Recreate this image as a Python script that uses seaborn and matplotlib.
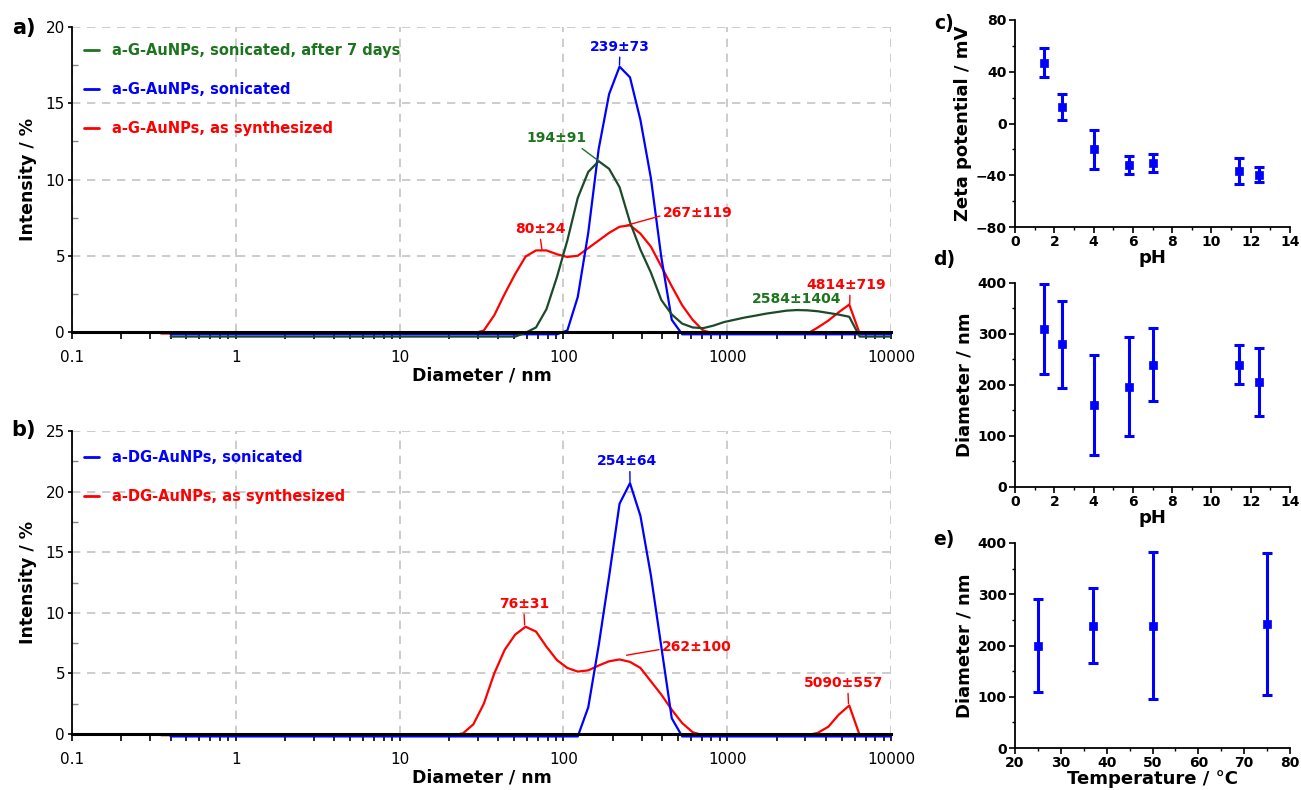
import matplotlib
matplotlib.use("Agg")
import matplotlib.pyplot as plt
import seaborn as sns
from matplotlib.lines import Line2D
from matplotlib.ticker import MultipleLocator, LogLocator, NullFormatter

sns.set_theme(style="ticks")
plt.rcParams['font.family'] = ['DejaVu Sans']
plt.rcParams['text.color'] = 'black'
plt.rcParams['axes.labelcolor'] = 'black'
plt.rcParams['xtick.labelcolor'] = 'black'
plt.rcParams['ytick.labelcolor'] = 'black'

BLUE = '#0000FF'
RED = '#FF0000'
GREEN = '#1A4A2A'
GREEN_TXT = '#1E741E'

# ---- panel a: DLS size distributions, a-G-AuNPs ----
red_a_d = [0.35, 28.21, 32.67, 37.84, 43.82, 50.75, 58.77, 68.06, 78.82, 91.28, 105.7,
           122.4, 141.8, 164.2, 190.1, 220.2, 255.0, 295.3, 342.0, 396.1, 458.7, 531.2,
           615.1, 712.4, 825.0, 3091, 3580, 4145, 4801, 5560, 6439, 10000]
red_a_i = [-0.1, -0.1, 0.1, 1.1, 2.5, 3.8, 4.95, 5.35, 5.35, 5.1, 4.92,
           5.0, 5.5, 6.0, 6.5, 6.9, 7.0, 6.45, 5.6, 4.3, 3.0, 1.75,
           0.8, 0.1, -0.1, -0.1, 0.3, 0.75, 1.3, 1.8, -0.1, -0.1]

blue_a_d = [0.4, 91.28, 105.7, 122.4, 141.8, 164.2, 190.1, 220.2, 255.0, 295.3, 342.0,
            396.1, 458.7, 531.2, 10000]
blue_a_i = [-0.15, -0.15, 0.1, 2.3, 6.5, 12.0, 15.6, 17.4, 16.7, 13.9, 10.1,
            4.9, 0.8, -0.15, -0.15]

green_a_d = [0.4, 50.75, 58.77, 68.06, 78.82, 91.28, 105.7, 122.4, 141.8, 164.2, 190.1,
             220.2, 255.0, 295.3, 342.0, 396.1, 458.7, 531.2, 615.1, 712.4, 825.0, 955.4,
             1106, 1281, 1484, 1718, 1990, 2305, 2669, 3091, 3580, 4145, 4801, 5560,
             6439, 10000]
green_a_i = [-0.3, -0.3, -0.05, 0.3, 1.5, 3.6, 6.0, 8.8, 10.5, 11.2, 10.7,
             9.5, 7.2, 5.4, 3.9, 2.1, 1.15, 0.55, 0.3, 0.25, 0.42, 0.65,
             0.8, 0.95, 1.07, 1.2, 1.3, 1.4, 1.44, 1.42, 1.36, 1.25, 1.14, 1.0,
             -0.3, -0.3]

# ---- panel b: DLS size distributions, a-DG-AuNPs ----
red_b_d = [0.35, 21.04, 24.36, 28.21, 32.67, 37.84, 43.82, 50.75, 58.77, 68.06, 78.82,
           91.28, 105.7, 122.4, 141.8, 164.2, 190.1, 220.2, 255.0, 295.3, 342.0, 396.1,
           458.7, 531.2, 615.1, 712.4, 3091, 3580, 4145, 4801, 5560, 6439, 10000]
red_b_i = [-0.1, -0.1, 0.05, 0.8, 2.5, 5.0, 6.95, 8.2, 8.85, 8.45, 7.2,
           6.1, 5.45, 5.15, 5.25, 5.65, 6.0, 6.15, 5.95, 5.45, 4.35, 3.25,
           2.0, 0.9, 0.15, -0.1, -0.1, 0.1, 0.6, 1.6, 2.35, -0.1, -0.1]

blue_b_d = [0.4, 122.4, 141.8, 164.2, 190.1, 220.2, 255.0, 295.3, 342.0, 396.1, 458.7,
            531.2, 10000]
blue_b_i = [-0.2, -0.2, 2.2, 7.3, 13.0, 19.0, 20.7, 18.0, 13.1, 7.2, 1.3,
            -0.2, -0.2]

# peak annotations: text, peak (x, y), text centre (x, y), colour, leader start on text
ann_a_text = ['239±73', '194±91', '80±24', '267±119', '2584±1404', '4814±719']
ann_a_xy = [(220, 17.5), (165, 11.2), (74, 5.4), (244, 7.0), (2780, 1.45), (5600, 1.85)]
ann_a_pos = [(221, 18.7), (91, 12.7), (72, 6.75), (664, 7.8), (2667, 2.16), (5310, 3.08)]
ann_a_col = [BLUE, GREEN_TXT, RED, RED, GREEN_TXT, RED]
ann_a_rel = [(0.5, 0), (0.85, 0), (0.5, 0), (0, 0.35), (0.5, 0), (0.55, 0)]

ann_b_text = ['254±64', '76±31', '262±100', '5090±557']
ann_b_xy = [(255, 20.8), (58, 9.0), (243, 6.5), (5500, 2.5)]
ann_b_pos = [(244, 22.5), (57.4, 10.73), (655, 7.18), (5160, 4.2)]
ann_b_col = [BLUE, RED, RED, RED]
ann_b_rel = [(0.55, 0), (0.5, 0), (0, 0.35), (0.55, 0)]

# ---- panels c, d, e ----
ph = [1.5, 2.4, 4.0, 5.8, 7.0, 11.4, 12.4]
zeta = [47, 13, -20, -32, -30.5, -36.5, -39.5]
zeta_err = [11, 10, 15, 7, 7, 10, 6]
diam_ph = [310, 280, 161, 197, 240, 240, 206]
diam_ph_err = [88, 85, 98, 97, 72, 39, 67]
temp = [25, 37, 50, 75]
diam_t = [200, 239, 239, 242]
diam_t_err = [91, 73, 143, 138]

W, H = 1301, 790
fig = plt.figure(figsize=(W / 100, H / 100), dpi=100)


def px_axes(left, top, right, bottom):
    return fig.add_axes([left / W, 1 - bottom / H, (right - left) / W, (bottom - top) / H])


def dls_panel(ax, curves, ymax, legend_items, ann, legend_y):
    for d, i, c in curves:
        sns.lineplot(x=d, y=i, ax=ax, color=c, lw=1.6, sort=False, estimator=None)
        ax.lines[-1].set_clip_on(False)
    ax.set_xscale('log')
    ax.set_xlim(0.1, 10000)
    ax.set_ylim(0, ymax)
    ax.set_xticks([0.1, 1, 10, 100, 1000, 10000])
    ax.set_xticklabels(['0.1', '1', '10', '100', '1000', '10000'])
    ax.xaxis.set_minor_locator(LogLocator(base=10, subs=range(2, 10), numticks=20))
    ax.xaxis.set_minor_formatter(NullFormatter())
    ax.yaxis.set_major_locator(MultipleLocator(5))
    ax.yaxis.set_minor_locator(MultipleLocator(2.5))
    ax.grid(True, which='major', ls=(0, (5, 4)), color='#C4C4C4', lw=1.2)
    for s in ['top', 'right']:
        ax.spines[s].set_visible(False)
    ax.spines['left'].set_color('black')
    ax.spines['left'].set_linewidth(1.3)
    ax.spines['bottom'].set_color('black')
    ax.spines['bottom'].set_linewidth(2.2)
    ax.tick_params(axis='x', which='both', direction='out', length=5, width=1.2,
                   color='black', labelsize=11, pad=8)
    ax.tick_params(axis='y', which='major', direction='out', length=3, width=1.2,
                   color='black', labelsize=11, pad=2)
    ax.tick_params(axis='y', which='minor', direction='in', length=4, width=1, color='#888888')
    ax.set_xlabel('Diameter / nm', fontsize=12.5, fontweight='bold', labelpad=1)
    ax.set_ylabel('Intensity / %', fontsize=12.5, fontweight='bold', labelpad=6)

    handles = [Line2D([], [], color=c, lw=2) for _, c in legend_items]
    leg = ax.legend(handles, [t for t, _ in legend_items], loc='upper left',
                    bbox_to_anchor=(0.015, legend_y), frameon=False,
                    prop={'size': 10.5, 'weight': 'bold'}, handlelength=1.0,
                    handletextpad=0.9, labelspacing=1.65, borderaxespad=0, borderpad=0)
    for txt, (_, c) in zip(leg.get_texts(), legend_items):
        txt.set_color(c)

    for t, xy, pos, c, rel in zip(*ann):
        ax.annotate(t, xy=xy, xytext=pos, ha='center', va='center', color=c,
                    fontsize=10, fontweight='bold',
                    arrowprops=dict(arrowstyle='-', color=c, lw=1, shrinkA=0, shrinkB=0,
                                    relpos=rel))


ax_a = px_axes(72, 27, 891, 332)
dls_panel(ax_a,
          [(red_a_d, red_a_i, RED), (blue_a_d, blue_a_i, BLUE), (green_a_d, green_a_i, GREEN)],
          20,
          [('a-G-AuNPs, sonicated, after 7 days', GREEN_TXT),
           ('a-G-AuNPs, sonicated', BLUE),
           ('a-G-AuNPs, as synthesized', RED)],
          (ann_a_text, ann_a_xy, ann_a_pos, ann_a_col, ann_a_rel), 0.948)

ax_b = px_axes(72, 431, 891, 734)
dls_panel(ax_b,
          [(red_b_d, red_b_i, RED), (blue_b_d, blue_b_i, BLUE)],
          25,
          [('a-DG-AuNPs, sonicated', BLUE),
           ('a-DG-AuNPs, as synthesized', RED)],
          (ann_b_text, ann_b_xy, ann_b_pos, ann_b_col, ann_b_rel), 0.937)


def small_panel(ax, x, y, err, xlim, xmaj, xmin, ylim, ymaj, ymin, xlabel, ylabel):
    ax.errorbar(x, y, yerr=err, fmt='none', ecolor=BLUE, elinewidth=2.2,
                capsize=3.3, capthick=2.2, zorder=2)
    sns.scatterplot(x=x, y=y, ax=ax, marker='s', s=38, color=BLUE, edgecolor=BLUE,
                    linewidth=0.5, zorder=3)
    ax.set_xlim(*xlim)
    ax.set_ylim(*ylim)
    ax.xaxis.set_major_locator(MultipleLocator(xmaj))
    ax.xaxis.set_minor_locator(MultipleLocator(xmin))
    ax.yaxis.set_major_locator(MultipleLocator(ymaj))
    ax.yaxis.set_minor_locator(MultipleLocator(ymin))
    for s in ['top', 'right']:
        ax.spines[s].set_visible(False)
    for s in ['left', 'bottom']:
        ax.spines[s].set_color('black')
        ax.spines[s].set_linewidth(1.3)
    ax.tick_params(which='major', direction='out', length=4, width=1.2, color='black',
                   labelsize=10, pad=2)
    ax.tick_params(which='minor', direction='out', length=2.5, width=1, color='black')
    for lab in ax.get_xticklabels() + ax.get_yticklabels():
        lab.set_fontweight('bold')
    ax.set_xlabel(xlabel, fontsize=13, fontweight='bold', labelpad=0)
    ax.set_ylabel(ylabel, fontsize=13, fontweight='bold', labelpad=3)


ax_c = px_axes(1015, 20, 1290, 227)
small_panel(ax_c, ph, zeta, zeta_err, (0, 14), 2, 1, (-80, 80), 40, 20,
            'pH', 'Zeta potential / mV')
ax_d = px_axes(1015, 283, 1290, 487)
small_panel(ax_d, ph, diam_ph, diam_ph_err, (0, 14), 2, 1, (0, 400), 100, 50,
            'pH', 'Diameter / nm')
ax_e = px_axes(1015, 543, 1290, 748)
small_panel(ax_e, temp, diam_t, diam_t_err, (20, 80), 10, 5, (0, 400), 100, 50,
            'Temperature / °C', 'Diameter / nm')

for lab, x, y, fs in [('a)', 24, 28, 15), ('b)', 24, 430, 15), ('c)', 944, 24, 13.5),
                      ('d)', 944, 259, 13.5), ('e)', 944, 540, 13.5)]:
    fig.text(x / W, 1 - y / H, lab, fontsize=fs, fontweight='bold', ha='center', va='center')

fig.savefig('out.png', dpi=100)
